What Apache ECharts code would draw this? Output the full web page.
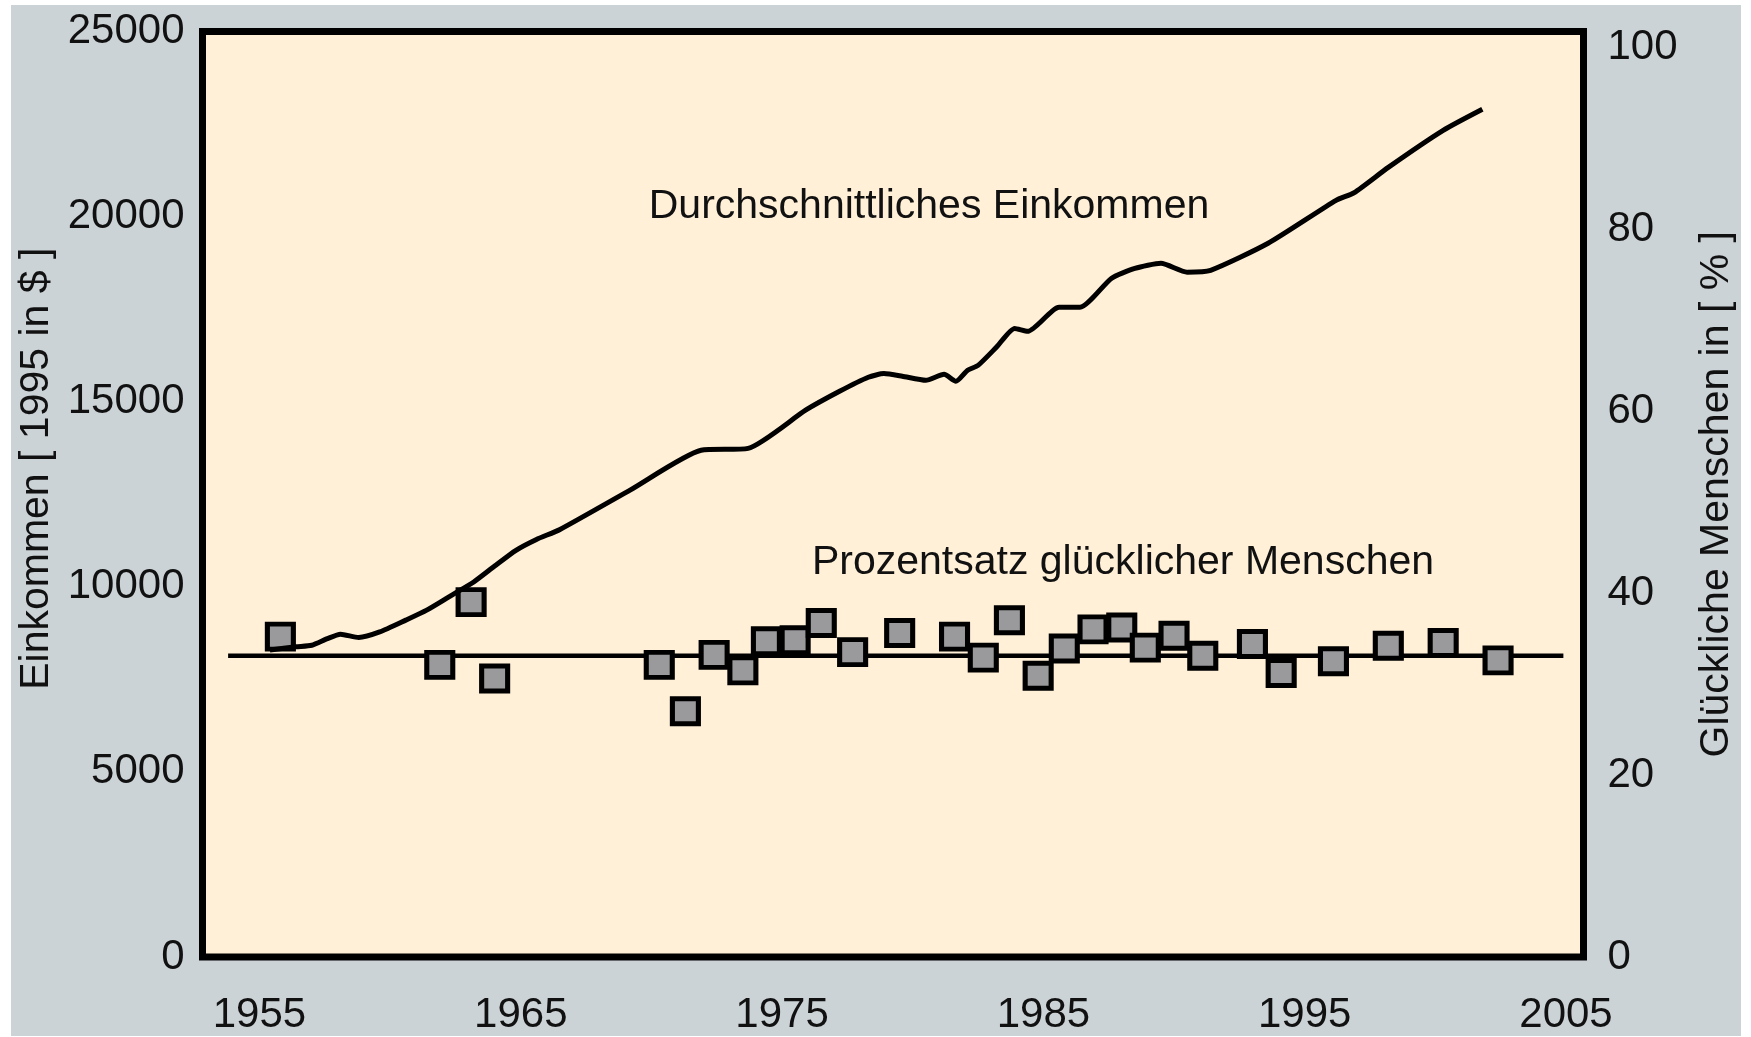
<!DOCTYPE html>
<html><head><meta charset="utf-8">
<script src="https://cdn.jsdelivr.net/npm/echarts@6/dist/echarts.min.js"></script>
<style>
html,body{margin:0;padding:0;background:#ffffff;}
#bg{position:absolute;left:11px;top:5px;width:1730px;height:1031px;background:#cbd3d7;}
#chart{position:absolute;left:0;top:0;width:1751px;height:1037px;}
</style></head><body>
<div id="bg"></div><div id="chart"></div>
<script>
// ---- data ----
const yearTicks = [1955, 1965, 1975, 1985, 1995, 2005];
const incomeTicks = [0, 5000, 10000, 15000, 20000, 25000];
const percentTicks = [0, 20, 40, 60, 80, 100];

const incomeYears = [1955.4, 1956.4, 1957.0, 1957.6, 1958.1, 1958.8, 1959.6, 1960.6, 1961.4, 1962.3,
  1963.2, 1964.0, 1964.8, 1965.6, 1966.5, 1969.2, 1971.9, 1973.7, 1975.9, 1977.2, 1978.3, 1978.9,
  1979.6, 1980.5, 1981.2, 1981.65, 1982.1, 1982.5, 1983.2, 1983.9, 1984.4, 1985.6,
  1986.4, 1987.6, 1988.5, 1989.5, 1990.5, 1991.4, 1993.6, 1996.2, 1996.9, 1998.2,
  2000.3, 2001.8];
const incomeValues = [8290, 8380, 8420, 8600, 8720, 8630, 8780, 9100, 9370, 9750,
  10130, 10560, 10980, 11280, 11550, 12620, 13690, 13740, 14770, 15280, 15660, 15760,
  15690, 15580, 15740, 15550, 15850, 15980, 16470, 16980, 16900, 17550,
  17550, 18330, 18600, 18740, 18500, 18550, 19280, 20440, 20650, 21330,
  22330, 22900];

const happyYears = [1955.8, 1961.9, 1963.1, 1964.0, 1970.3, 1971.3, 1972.4, 1973.5, 1974.4, 1975.5,
  1976.5, 1977.7, 1979.5, 1981.6, 1982.7, 1983.7, 1984.8, 1985.8, 1986.9, 1988.0,
  1988.9, 1990.0, 1991.1, 1993.0, 1994.1, 1996.1, 1998.2, 2000.3, 2002.4];
const happyValues = [35.2, 32.1, 39.0, 30.6, 32.1, 27.0, 33.2, 31.5, 34.7, 34.8,
  36.7, 33.5, 35.6, 35.2, 32.9, 37.0, 30.9, 33.9, 36.0, 36.2,
  34.0, 35.3, 33.1, 34.4, 31.2, 32.5, 34.2, 34.5, 32.6];

const meanYears = [1953.8, 2004.9];
const meanValue = 33.1;

const labelIncome = 'Durchschnittliches Einkommen';
const labelHappy = 'Prozentsatz glücklicher Menschen';
const nameLeft = 'Einkommen [ 1995 in $ ]';
const nameRight = 'Glückliche Menschen in [ % ]';

// ---- chart ----
const FONT = "'Liberation Sans', Arial, sans-serif";
const FS_TICK = 42;
const FS_TEXT = 41;
const plain = v => String(v);
const chart = echarts.init(document.getElementById('chart'), null, {renderer: 'canvas'});

const option = {
  backgroundColor: 'transparent',
  animation: false,
  grid: {
    left: 202.5, right: 167.5, top: 31.5, bottom: 80,
    containLabel: false, outerBoundsMode: 'none',
    show: true, backgroundColor: '#fff0d7', borderColor: '#000000', borderWidth: 7
  },
  xAxis: {
    type: 'value', min: 1952.82, max: 2005.67,
    axisLine: {show: false}, axisTick: {show: false}, splitLine: {show: false},
    axisLabel: {customValues: yearTicks, formatter: plain, margin: 37, color: '#111',
                fontFamily: FONT, fontSize: FS_TICK}
  },
  yAxis: [
    {
      type: 'value', min: 0, max: 25000, interval: 5000, position: 'left',
      axisLine: {show: false}, axisTick: {show: false}, splitLine: {show: false},
      axisLabel: {customValues: incomeTicks, formatter: plain, margin: 18, color: '#111',
                  fontFamily: FONT, fontSize: FS_TICK},
      name: nameLeft, nameLocation: 'middle', nameRotate: 90, nameGap: 127,
      nameTextStyle: {color: '#111', fontFamily: FONT, fontSize: FS_TEXT, padding: [0, 0, 0, 51]}
    },
    {
      type: 'value', min: 0, max: 101.7, interval: 20, position: 'right',
      axisLine: {show: false}, axisTick: {show: false}, splitLine: {show: false},
      axisLabel: {customValues: percentTicks, formatter: plain, margin: 24, color: '#111',
                  fontFamily: FONT, fontSize: FS_TICK},
      name: nameRight, nameLocation: 'middle', nameRotate: 90, nameGap: 113,
      nameTextStyle: {color: '#111', fontFamily: FONT, fontSize: FS_TEXT}
    }
  ],
  series: [
    {
      name: 'mean', type: 'line', yAxisIndex: 1, z: 1,
      data: meanYears.map(y => [y, meanValue]),
      symbol: 'none', lineStyle: {color: '#000', width: 4.5}
    },
    {
      name: labelHappy, type: 'scatter', yAxisIndex: 1, z: 2,
      data: happyYears.map((y, i) => [y, happyValues[i]]),
      symbol: 'rect', symbolSize: [26, 25],
      itemStyle: {color: '#9a9a9c', borderColor: '#000', borderWidth: 5, opacity: 1}
    },
    {
      name: labelIncome, type: 'line', yAxisIndex: 0, z: 3,
      data: incomeYears.map((y, i) => [y, incomeValues[i]]),
      symbol: 'none', smooth: 0.2,
      lineStyle: {color: '#000', width: 5}
    }
  ],
  graphic: [
    {type: 'text', x: 929, y: 207, z: 10,
     style: {text: labelIncome, textAlign: 'center', textVerticalAlign: 'middle',
             font: FS_TEXT + 'px ' + FONT, fill: '#111'}},
    {type: 'text', x: 1123, y: 563, z: 10,
     style: {text: labelHappy, textAlign: 'center', textVerticalAlign: 'middle',
             font: FS_TEXT + 'px ' + FONT, fill: '#111'}}
  ]
};
chart.setOption(option);
</script>
</body></html>
